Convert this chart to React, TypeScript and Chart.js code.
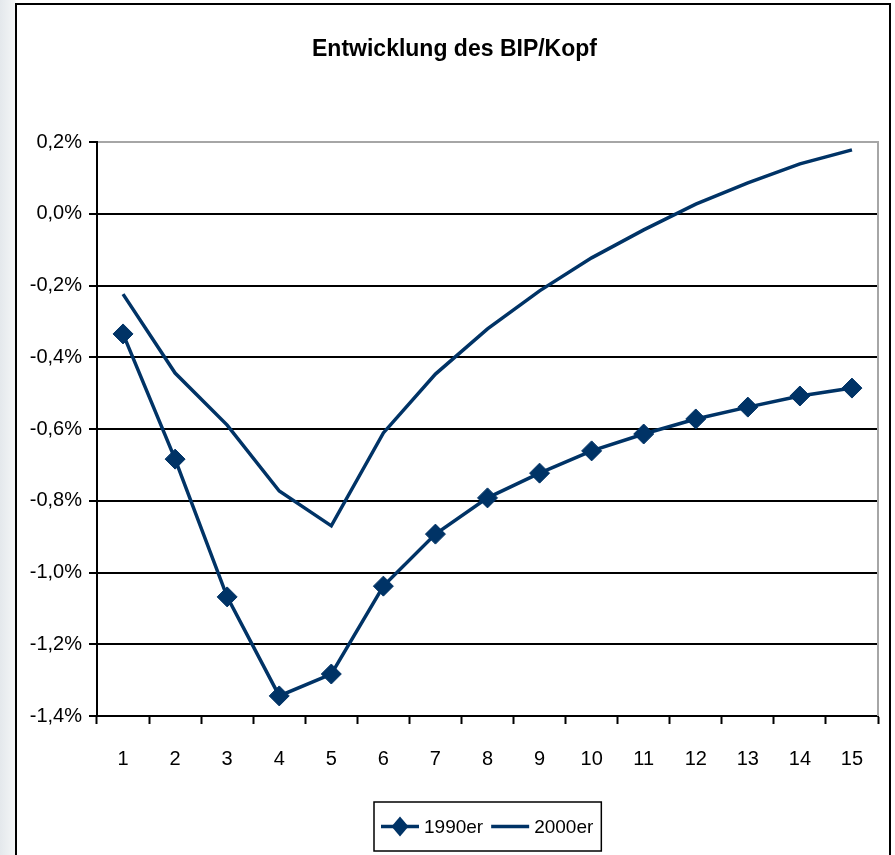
import React, { useEffect, useRef } from "react";
import { Chart, registerables } from "chart.js";

Chart.register(...registerables);

const chartTitle = "Entwicklung des BIP/Kopf";
const categories = ["1", "2", "3", "4", "5", "6", "7", "8", "9", "10", "11", "12", "13", "14", "15"];
const seriesLabels = ["1990er", "2000er"];
const values1990 = [-0.335, -0.684, -1.068, -1.344, -1.283, -1.038, -0.893, -0.792, -0.723, -0.661, -0.614, -0.572, -0.539, -0.508, -0.486];
const values2000 = [-0.224, -0.444, -0.589, -0.773, -0.87, -0.611, -0.447, -0.321, -0.215, -0.123, -0.045, 0.027, 0.086, 0.139, 0.178];
const yMin = -1.4;
const yMax = 0.2;
const yStep = 0.2;

const FONT = "'Liberation Sans Narrow', 'Liberation Sans', Arial, sans-serif";
const NAVY = "#003366";

const fmt = (v: number) => {
  const x = Math.abs(v) < 1e-9 ? 0 : v;
  return x.toFixed(1).replace(".", ",") + "%";
};

const decorPlugin = {
  id: "decor",
  afterDraw(chart: any) {
    const ctx = chart.ctx;
    const area = chart.chartArea;
    ctx.save();
    // right plot border
    ctx.strokeStyle = "#a6a6a6";
    ctx.lineWidth = 2;
    ctx.beginPath();
    ctx.moveTo(area.right, area.top - 1);
    ctx.lineTo(area.right, area.bottom);
    ctx.stroke();

    // title
    ctx.fillStyle = "#000";
    ctx.font = `bold 23px ${FONT}`;
    ctx.textAlign = "center";
    ctx.textBaseline = "middle";
    ctx.fillText(chartTitle, chart.width / 2 + 7, 50);

    // legend
    ctx.font = `19px ${FONT}`;
    const ds = chart.data.datasets;
    const padL = 7, lineLen = 38, gap = 5, itemGap = 8, padR = 8;
    let total = padL + padR;
    ds.forEach((d: any, i: number) => {
      total += lineLen + gap + ctx.measureText(d.label).width;
      if (i < ds.length - 1) total += itemGap;
    });
    const cx = (area.left + area.right) / 2;
    const bx = Math.round(cx - total / 2);
    const by = 802, bh = 49;
    ctx.lineWidth = 1.5;
    ctx.strokeStyle = "#000";
    ctx.strokeRect(bx, by, total, bh);
    let x = bx + padL;
    const cy = by + bh / 2;
    ds.forEach((d: any) => {
      ctx.strokeStyle = d.borderColor;
      ctx.lineWidth = 3.5;
      ctx.beginPath();
      ctx.moveTo(x, cy);
      ctx.lineTo(x + lineLen, cy);
      ctx.stroke();
      if (d.pointRadius > 0) {
        const r = d.pointRadius;
        const mx = x + lineLen / 2;
        ctx.fillStyle = d.pointBackgroundColor;
        ctx.beginPath();
        ctx.moveTo(mx, cy - r);
        ctx.lineTo(mx + r * 0.85, cy);
        ctx.lineTo(mx, cy + r);
        ctx.lineTo(mx - r * 0.85, cy);
        ctx.closePath();
        ctx.fill();
      }
      x += lineLen + gap;
      ctx.fillStyle = "#000";
      ctx.textAlign = "left";
      ctx.textBaseline = "middle";
      ctx.fillText(d.label, x, cy + 1);
      x += ctx.measureText(d.label).width + itemGap;
    });
    ctx.restore();
  },
};

export default function App() {
  const ref = useRef<HTMLCanvasElement | null>(null);

  useEffect(() => {
    if (!ref.current) return;
    const chart = new Chart(ref.current, {
      type: "line",
      data: {
        labels: categories,
        datasets: [
          {
            label: seriesLabels[0],
            data: values1990,
            borderColor: NAVY,
            backgroundColor: NAVY,
            pointBackgroundColor: NAVY,
            pointBorderColor: NAVY,
            borderWidth: 3.5,
            pointStyle: "rectRot",
            pointRadius: 10,
            pointBorderWidth: 1,
            tension: 0,
          },
          {
            label: seriesLabels[1],
            data: values2000,
            borderColor: NAVY,
            backgroundColor: NAVY,
            pointBackgroundColor: NAVY,
            borderWidth: 3.5,
            pointRadius: 0,
            tension: 0,
          },
        ],
      },
      options: {
        responsive: false,
        animation: false,
        layout: { padding: { left: 0, right: 17, top: 142, bottom: 0 } },
        plugins: {
          legend: { display: false },
          title: { display: false },
          tooltip: { enabled: false },
        },
        scales: {
          x: {
            offset: true,
            grid: {
              offset: true,
              drawOnChartArea: false,
              drawTicks: true,
              tickLength: 8,
              tickColor: "#000",
              tickWidth: 2,
              color: "#000",
            },
            border: { display: true, color: "#000", width: 2 },
            ticks: {
              color: "#000",
              padding: 23,
              maxRotation: 0,
              autoSkip: false,
              font: { family: FONT, size: 20 },
            },
            afterFit: (s: any) => {
              s.height = 139;
            },
          },
          y: {
            min: yMin,
            max: yMax,
            ticks: {
              stepSize: yStep,
              color: "#000",
              padding: 7,
              font: { family: FONT, size: 20 },
              callback: (v: any) => fmt(Number(v)),
            },
            grid: {
              color: (c: any) => (c.tick && Math.abs(c.tick.value - yMax) < 1e-6 ? "#a6a6a6" : "#000"),
              lineWidth: 2,
              tickColor: "#000",
              tickLength: 8,
              tickWidth: 2,
            },
            border: { display: true, color: "#000", width: 2 },
            afterFit: (s: any) => {
              s.width = 97;
            },
          },
        },
      },
      plugins: [decorPlugin],
    });
    return () => chart.destroy();
  }, []);

  return (
    <div
      style={{
        position: "absolute",
        left: 0,
        top: 0,
        width: 895,
        height: 855,
        overflow: "hidden",
        background: "linear-gradient(to right, #e4e8ec 0px, #f4f6f7 15px, #ffffff 16px)",
      }}
    >
      <div
        style={{
          position: "absolute",
          left: 15,
          top: 3,
          width: 876,
          height: 900,
          boxSizing: "border-box",
          border: "2.5px solid #000",
          background: "#fff",
        }}
      />
      <canvas
        ref={ref}
        width={895}
        height={855}
        style={{ position: "absolute", left: 0, top: 0, width: 895, height: 855 }}
      />
    </div>
  );
}
